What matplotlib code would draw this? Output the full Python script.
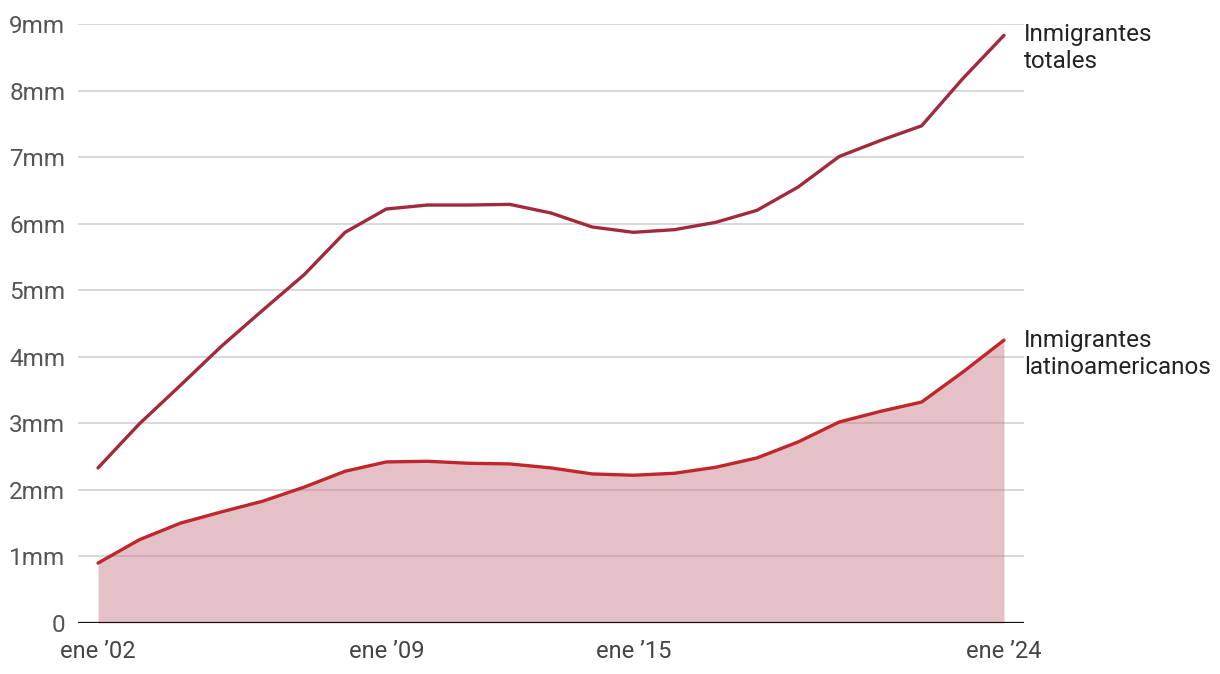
import matplotlib
matplotlib.use("Agg")
import matplotlib.pyplot as plt

years = list(range(2002, 2025))
total = [2.33, 2.99, 3.57, 4.16, 4.70, 5.23, 5.87, 6.22, 6.28, 6.28, 6.29, 6.16,
         5.95, 5.87, 5.91, 6.02, 6.20, 6.55, 7.01, 7.25, 7.47, 8.18, 8.83]
latino = [0.90, 1.25, 1.50, 1.67, 1.83, 2.04, 2.28, 2.42, 2.43, 2.40, 2.39, 2.33,
          2.24, 2.22, 2.25, 2.34, 2.48, 2.72, 3.02, 3.18, 3.32, 3.77, 4.25]
xtick_pos = [2002, 2009, 2015, 2024]
xtick_labels = ["ene \u201902", "ene \u201909", "ene \u201915", "ene \u201924"]
ytick_pos = list(range(0, 10))
ytick_labels = ["0"] + [f"{i}mm" for i in range(1, 10)]

plt.rcParams['font.family'] = ['Roboto', 'DejaVu Sans']

fig = plt.figure(figsize=(12.2, 6.74), dpi=100)
W, H = 1220, 674
ax = fig.add_axes([78 / W, (H - 623) / H, (1024 - 78) / W, (623 - 24) / H])

ax.set_ylim(0, 9)
ax.set_xlim(2002 - 20 / 41.18, 2024 + 20 / 41.18)

for y in ytick_pos[1:]:
    ax.axhline(y, color="#d5d5d5", lw=1.3, zorder=1)

ax.fill_between(years, 0, latino, color="#c47683", alpha=0.45, lw=0, zorder=2)
ax.plot(years, latino, color="#c0272d", lw=2.4, zorder=3, solid_capstyle="round")
ax.plot(years, total, color="#a12a3c", lw=2.4, zorder=3, solid_capstyle="round")
ax.axhline(0, color="#111111", lw=1.6, zorder=4)

for s in ax.spines.values():
    s.set_visible(False)

ax.set_yticks(ytick_pos)
ax.set_yticklabels(ytick_labels, fontsize=17.5, color="#555555")
ax.set_xticks(xtick_pos)
ax.set_xticklabels(xtick_labels, fontsize=17, color="#444444")
ax.tick_params(axis="both", length=0)
ax.tick_params(axis="y", pad=9)
ax.tick_params(axis="x", pad=12)

ax.annotate("Inmigrantes\ntotales", xy=(1.0, total[-1]), xycoords=("axes fraction", "data"),
            xytext=(1024, H - 23), textcoords="figure pixels", fontsize=17.5, color="#222222",
            ha="left", va="top", linespacing=1.24)
ax.annotate("Inmigrantes\nlatinoamericanos", xy=(1.0, latino[-1]), xycoords=("axes fraction", "data"),
            xytext=(1024, H - 329), textcoords="figure pixels", fontsize=17.5, color="#222222",
            ha="left", va="top", linespacing=1.24)

fig.savefig("out.png", dpi=100)
